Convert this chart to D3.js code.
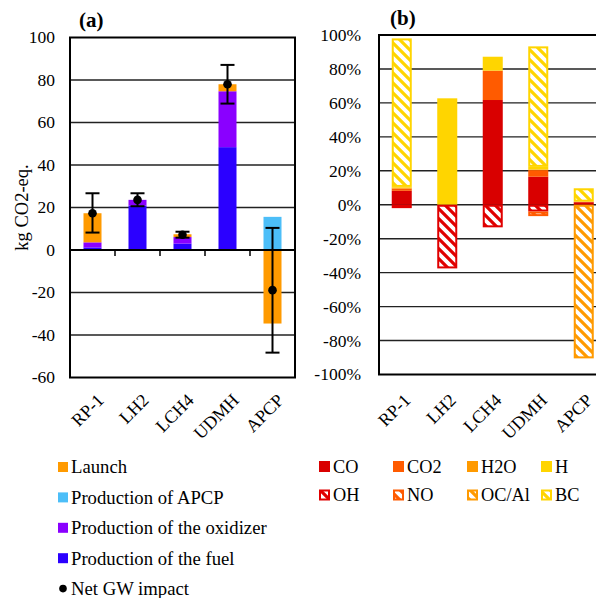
<!DOCTYPE html>
<html><head><meta charset="utf-8">
<script src="https://cdn.jsdelivr.net/npm/d3@7"></script>
<style>body{margin:0;background:#fff}svg{display:block}</style>
</head><body><svg id="c" width="596" height="598"></svg>
<script>
const categories = ["RP-1","LH2","LCH4","UDMH","APCP"];
// panel (a) kg CO2-eq.
const fuel     = [1.2, 20.9, 3.0, 48.4, 0];
const oxidizer = [2.4, 2.7, 3.1, 26.3, 0];
const apcpProd = [0, 0, 0, 0, 15.6];
const launch   = [13.7, 0, 1.3, 3.3, -34.6];
const netGW    = [17.3, 23.6, 7.2, 78.0, -18.9];
const errLow   = [8.2, 20.6, 5.8, 68.9, -48.3];
const errHigh  = [26.7, 26.7, 8.6, 87.1, 10.4];
const ticksA   = [-60,-40,-20,0,20,40,60,80,100];
// panel (b) percent
const CO   = [8.2, 0, 61.7, 16.5, 1.5];
const CO2  = [1.3, 0, 17.3, 3.9, 0.3];
const H2O  = [0.6, 0, 0, 0.4, 0];
const H    = [0.4, 62.7, 8.2, 1.5, 0];
const BC   = [87.5, 0, 0, 71.0, 7.9];
const OH   = [-2.0, -37.5, -13.3, -4.0, 0];
const NO   = [0, 0, 0, -2.7, 0];
const OCAl = [0, 0, 0, 0, -90.5];
const ticksB = [-100,-80,-60,-40,-20,0,20,40,60,80,100];

const FONT = '"Liberation Serif", monospace';
const svg = d3.select("#c");
const defs = svg.append("defs");
function hatch(id, color){
  const p = defs.append("pattern").attr("id",id).attr("patternUnits","userSpaceOnUse")
    .attr("width",10).attr("height",10);
  p.append("rect").attr("width",10).attr("height",10).attr("fill","#fff");
  p.append("path").attr("d","M-3,-3L13,13M-3,7L3,13M7,-3L13,3")
    .attr("stroke",color).attr("stroke-width",3.2);
}

// ---------- Panel (a) ----------
const xA = d3.scaleBand().domain(categories).range([70,295]).paddingInner(0.6).paddingOuter(0.3);
const yA = d3.scaleLinear().domain([-60,100]).range([377.5,37.5]);
const gA = svg.append("g");
gA.selectAll("line.grid").data(ticksA.filter(t=>t!==0 && t!==100 && t!==-60)).join("line")
  .attr("x1",70).attr("x2",295).attr("y1",d=>yA(d)).attr("y2",d=>yA(d))
  .attr("stroke","#222").attr("stroke-width",1.4);
const seriesA = [
  {name:"Production of the fuel", vals:fuel, color:"#2B00FF"},
  {name:"Production of the oxidizer", vals:oxidizer, color:"#8A00FF"},
  {name:"Production of APCP", vals:apcpProd, color:"#4CBEF8"},
  {name:"Launch", vals:launch, color:"#FF9A00"}
];
const rowsA = categories.map((c,i)=>{const o={cat:c}; seriesA.forEach(s=>o[s.name]=s.vals[i]); return o;});
const stackA = d3.stack().keys(seriesA.map(s=>s.name)).offset(d3.stackOffsetDiverging)(rowsA);
stackA.forEach((layer,k)=>{
  gA.selectAll(null).data(layer).join("rect")
    .attr("x",d=>xA(d.data.cat)).attr("width",xA.bandwidth())
    .attr("y",d=>yA(Math.max(d[0],d[1]))).attr("height",d=>Math.abs(yA(d[0])-yA(d[1])))
    .attr("fill",seriesA[k].color);
});
gA.append("rect").attr("x",70).attr("y",yA(100)).attr("width",225).attr("height",yA(-60)-yA(100))
  .attr("fill","none").attr("stroke","#000").attr("stroke-width",2);
gA.append("line").attr("x1",70).attr("x2",295).attr("y1",yA(0)).attr("y2",yA(0)).attr("stroke","#000").attr("stroke-width",2);
const stepA = xA.step();
gA.selectAll("line.tk").data(categories.slice(1)).join("line")
  .attr("x1",d=>xA(d)+xA.bandwidth()/2-stepA/2).attr("x2",d=>xA(d)+xA.bandwidth()/2-stepA/2)
  .attr("y1",yA(0)).attr("y2",yA(0)+6).attr("stroke","#000").attr("stroke-width",1.5);
categories.forEach((c,i)=>{
  const cx = xA(c)+xA.bandwidth()/2;
  gA.append("line").attr("x1",cx).attr("x2",cx).attr("y1",yA(errLow[i])).attr("y2",yA(errHigh[i])).attr("stroke","#000").attr("stroke-width",2);
  [errLow[i],errHigh[i]].forEach(v=>gA.append("line").attr("x1",cx-7).attr("x2",cx+7).attr("y1",yA(v)).attr("y2",yA(v)).attr("stroke","#000").attr("stroke-width",2));
  gA.append("circle").attr("cx",cx).attr("cy",yA(netGW[i])).attr("r",4.3).attr("fill","#000");
});
gA.selectAll("text.yt").data(ticksA).join("text")
  .attr("x",55).attr("y",d=>yA(d)).attr("dy","0.34em").attr("text-anchor","end")
  .attr("font-size",17.5).text(d=>d);
gA.append("text").attr("transform",`translate(28,${(yA(100)+yA(-60))/2}) rotate(-90)`)
  .attr("text-anchor","middle").attr("font-size",18.5).text("kg CO2-eq.");
gA.selectAll("text.xt").data(categories).join("text")
  .attr("transform",d=>`translate(${xA(d)+xA.bandwidth()/2+4},393) rotate(-45)`)
  .attr("text-anchor","end").attr("dy","0.66em").attr("font-size",18).text(d=>d);
gA.append("text").attr("x",79).attr("y",27).attr("font-size",21).attr("font-weight","bold").text("(a)");

// ---------- Panel (b) ----------
const xB = d3.scaleBand().domain(categories).range([379,606.5]).paddingInner(0.56).paddingOuter(0.28);
const yB = d3.scaleLinear().domain([-100,100]).range([374.5,35]);
const gB = svg.append("g");
gB.selectAll("line.grid").data(ticksB.filter(t=>t!==100 && t!==-100)).join("line")
  .attr("x1",379).attr("x2",606.5).attr("y1",d=>yB(d)).attr("y2",d=>yB(d))
  .attr("stroke","#222").attr("stroke-width",1.4);
const seriesB = [
  {name:"CO", vals:CO, color:"#D90000", hatched:false},
  {name:"CO2", vals:CO2, color:"#FF5B00", hatched:false},
  {name:"H2O", vals:H2O, color:"#FF9A00", hatched:false},
  {name:"H", vals:H, color:"#FFD500", hatched:false},
  {name:"OH", vals:OH, color:"#E00000", hatched:true},
  {name:"NO", vals:NO, color:"#FF5B00", hatched:true},
  {name:"OC/Al", vals:OCAl, color:"#FF9A00", hatched:true},
  {name:"BC", vals:BC, color:"#FFD500", hatched:true}
];
seriesB.forEach((s,k)=>{ if(s.hatched) hatch("h"+k, s.color); });
const rowsB = categories.map((c,i)=>{const o={cat:c}; seriesB.forEach(s=>o[s.name]=s.vals[i]); return o;});
const stackB = d3.stack().keys(seriesB.map(s=>s.name)).offset(d3.stackOffsetDiverging)(rowsB);
stackB.forEach((layer,k)=>{
  const s = seriesB[k];
  gB.selectAll(null).data(layer.filter(d=>d[1]!==d[0])).join("rect")
    .attr("x",d=>xB(d.data.cat)+(s.hatched?1:0)).attr("width",xB.bandwidth()-(s.hatched?2:0))
    .attr("y",d=>yB(Math.max(d[0],d[1]))+(s.hatched?1:0))
    .attr("height",d=>Math.max(0.5,Math.abs(yB(d[0])-yB(d[1]))-(s.hatched?2:0)))
    .attr("fill",s.hatched?`url(#h${k})`:s.color)
    .attr("stroke",s.hatched?s.color:"none").attr("stroke-width",2);
});
gB.append("rect").attr("x",379).attr("y",yB(100)).attr("width",227.5).attr("height",yB(-100)-yB(100))
  .attr("fill","none").attr("stroke","#000").attr("stroke-width",2);
gB.selectAll("text.yt").data(ticksB).join("text")
  .attr("x",361).attr("y",d=>yB(d)).attr("dy","0.34em").attr("text-anchor","end")
  .attr("font-size",17.5).text(d=>d+"%");
gB.selectAll("text.xt").data(categories).join("text")
  .attr("transform",d=>`translate(${xB(d)+xB.bandwidth()/2+1.5},393) rotate(-45)`)
  .attr("text-anchor","end").attr("dy","0.66em").attr("font-size",18).text(d=>d);
gB.append("text").attr("x",390).attr("y",25).attr("font-size",21).attr("font-weight","bold").text("(b)");

// ---------- Legends ----------
const legA = [
  {name:"Launch", color:"#FF9A00"},
  {name:"Production of APCP", color:"#4CBEF8"},
  {name:"Production of the oxidizer", color:"#8A00FF"},
  {name:"Production of the fuel", color:"#2B00FF"},
  {name:"Net GW impact", dot:true}
];
legA.forEach((d,i)=>{
  const y = 467 + i*30.4;
  if(d.dot) svg.append("circle").attr("cx",63).attr("cy",y).attr("r",3.8).attr("fill","#000");
  else svg.append("rect").attr("x",58).attr("y",y-5).attr("width",10).attr("height",10).attr("fill",d.color);
  svg.append("text").attr("x",71).attr("y",y).attr("dy","0.34em").attr("font-size",18.7).text(d.name);
});
const legColsX = [319,393,467,541];
seriesB.forEach((s,k)=>{
  const col = k%4, row = Math.floor(k/4);
  const x = legColsX[col], y = 466.5 + row*28.5;
  svg.append("rect").attr("x",x+(s.hatched?1:0)).attr("y",y-5.5+(s.hatched?1:0))
    .attr("width",s.hatched?9:11).attr("height",s.hatched?9:11)
    .attr("fill",s.hatched?`url(#h${k})`:s.color).attr("stroke",s.hatched?s.color:"none").attr("stroke-width",2);
  svg.append("text").attr("x",x+14).attr("y",y).attr("dy","0.34em").attr("font-size",18.3).text(s.name);
});
svg.selectAll("text").style("font-family",FONT).style("fill","#000");
</script></body></html>
